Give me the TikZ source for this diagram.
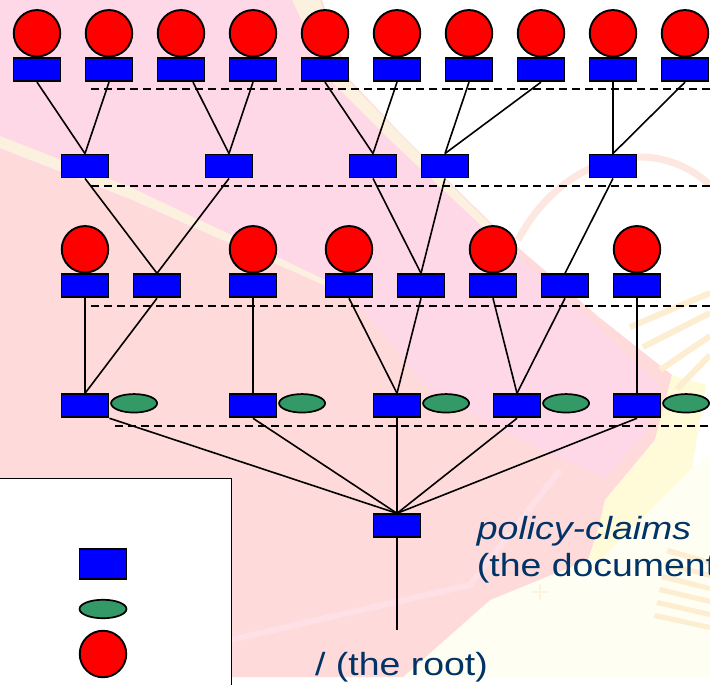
\documentclass[tikz,border=0pt]{standalone}
\usepackage{fontspec}
\newfontfamily\lblfont[FakeStretch=1.17]{Liberation Sans}
\usetikzlibrary{shapes.geometric,calc}
\definecolor{salmonbg}{RGB}{255,218,218}
\definecolor{pinkbg}{RGB}{255,216,232}
\definecolor{yelstreak}{RGB}{252,240,222}
\definecolor{yelband}{RGB}{255,251,216}
\definecolor{creambg}{RGB}{255,254,243}
\definecolor{beigebar}{RGB}{253,238,210}
\definecolor{arcbg}{RGB}{252,232,224}
\definecolor{streakbg}{RGB}{255,224,230}
\definecolor{leafgreen}{RGB}{51,153,102}
\definecolor{navytext}{RGB}{0,51,102}
\tikzset{
  blk/.style={rectangle, draw=black, line width=1.9, fill=blue, minimum width=47, minimum height=23, inner sep=0},
  rnd/.style={circle, draw=black, line width=1.9, fill=red, minimum size=46.5, inner sep=0},
  ovl/.style={ellipse, draw=black, line width=1.7, fill=leafgreen, minimum width=46, minimum height=18.5, inner sep=0},
  conn/.style={line width=1.6, draw=black},
  sepline/.style={line width=1.8, dash pattern=on 8pt off 5pt},
  lbl/.style={inner sep=0, anchor=base west, text=navytext, font=\lblfont\fontsize{32}{37}\selectfont},
}
\begin{document}
\begin{tikzpicture}[x=1pt,y=-1pt]
\useasboundingbox (0,0) rectangle (710,685);
% ---------- background ----------
\fill[white] (0,0) rectangle (710,685);
\fill[creambg] (403,677) -- (490,600) -- (588,560) -- (640,520) -- (690,470) -- (710,455) -- (710,677) -- cycle;
\fill[salmonbg] (0,0) -- (322,0) -- (350,80) -- (400,133) -- (500,232) -- (600,318) -- (672,375) -- (655,440) -- (605,500) -- (598,530) -- (588,560) -- (490,600) -- (403,677) -- (0,677) -- cycle;
\fill[pinkbg] (0,0) -- (300,0) -- (340,85) -- (470,215) -- (590,320) -- (660,385) -- (645,435) -- (605,478) -- (520,440) -- (430,390) -- (355,300) -- (130,200) -- (0,150) -- cycle;
\fill[yelstreak] (292,0) -- (320,0) -- (346,78) -- (396,130) -- (492,226) -- (486,230) -- (390,140) -- (330,80) -- cycle;
\fill[yelstreak] (0,136) -- (130,187) -- (355,294) -- (355,299) -- (130,199) -- (0,148) -- cycle;
\fill[yelband] (672,375) -- (706,385) -- (692,468) -- (640,520) -- (600,560) -- (588,560) -- (598,530) -- (605,500) -- (655,440) -- cycle;
\draw[streakbg, line width=6] (230,640) -- (470,585) -- (560,470);
\draw[arcbg, line width=7] (518,240) .. controls (560,160) and (650,130) .. (710,185);
\foreach \k in {0,...,5}
  \fill[beigebar] (668-2.5*\k,548+13*\k) -- (710,560+13*\k) -- (710,565+13*\k) -- (666-2.5*\k,553+13*\k) -- cycle;
\foreach \a/\b in {630/327,643/347,660/370,677/389}
  \draw[beigebar, line width=6] (\a,\b) -- (710,\b-34);
\draw[beigebar!70!white, line width=1.5] (532,592) -- (548,592) (540,584) -- (540,600);
% ---------- legend ----------
\draw[line width=1.6, fill=white] (-5,478.5) rectangle (231.5,700);
\node[blk, minimum height=30] (legrect) at (103,564) {};
\node[ovl, minimum width=47] (legovl) at (103,609) {};
\node[rnd] (legrnd) at (103,654) {};
% ---------- separators ----------
\draw[sepline] (91,89.3) -- (710,89.3);
\draw[sepline] (91,185.7) -- (710,185.7);
\draw[sepline] (91,305.7) -- (710,305.7);
\draw[sepline] (115,425.7) -- (710,425.7);
% ---------- top row ----------
\foreach \x [count=\k] in {37,109,181,253,325,397,469,541,613,685} {
  \node[blk] (t\k) at (\x,69.7) {};
  \node[rnd] (tc\k) at (\x,33.3) {};
}
% ---------- level 2 ----------
\foreach \x [count=\k] in {85,229,373,445,613}
  \node[blk] (m\k) at (\x,166) {};
% ---------- level 3 ----------
\foreach \x [count=\k] in {85,157,253,349,421,493,565,637}
  \node[blk] (n\k) at (\x,285.8) {};
\foreach \k/\x in {1/85,3/253,4/349,6/493,8/637}
  \node[rnd] (nc\k) at (\x,249.3) {};
% ---------- level 4 ----------
\foreach \x [count=\k] in {85,253,397,517,637} {
  \node[blk] (p\k) at (\x,405.8) {};
  \node[ovl, anchor=west] (e\k) at ($(p\k.east)+(0.8,-2.5)$) {};
}
% ---------- root ----------
\node[blk] (r) at (397,525.8) {};
\coordinate (rootend) at (397,630);
% ---------- connectors ----------
\draw[conn] (t1.south) -- (m1.north);
\draw[conn] (t2.south) -- (m1.north);
\draw[conn] ($(t3.south)+(12,0)$) -- (m2.north);
\draw[conn] (t4.south) -- (m2.north);
\draw[conn] (t5.south) -- (m3.north);
\draw[conn] (t6.south) -- (m3.north);
\draw[conn] (t7.south) -- (m4.north);
\draw[conn] (t8.south) -- (m4.north);
\draw[conn] (t9.south) -- (m5.north);
\draw[conn] (t10.south) -- (m5.north);
\draw[conn] (m1.south) -- (n2.north);
\draw[conn] (m2.south) -- (n2.north);
\draw[conn] (m3.south) -- (n5.north);
\draw[conn] (m4.south) -- (n5.north);
\draw[conn] (m5.south) -- (n7.north);
\draw[conn] (n1.south) -- (p1.north);
\draw[conn] (n2.south) -- (p1.north);
\draw[conn] (n3.south) -- (p2.north);
\draw[conn] (n4.south) -- (p3.north);
\draw[conn] (n5.south) -- (p3.north);
\draw[conn] (n6.south) -- (p4.north);
\draw[conn] (n7.south) -- (p4.north);
\draw[conn] (n8.south) -- (p5.north);
\draw[conn] (p1.south east) -- (r.north);
\draw[conn] (p2.south) -- (r.north);
\draw[conn] (p3.south) -- (r.north);
\draw[conn] (p4.south) -- (r.north);
\draw[conn] (p5.south) -- (r.north);
\draw[conn] (r.south) -- (rootend);
% ---------- labels ----------
\node[lbl] (pclabel) at (476.7,539.3) {\itshape policy-claims};
\node[lbl] (doclabel) at (476.7,576) {(the document};
\node[lbl] (rootlabel) at (315,675) {/ (the root)};
\end{tikzpicture}
\end{document}
